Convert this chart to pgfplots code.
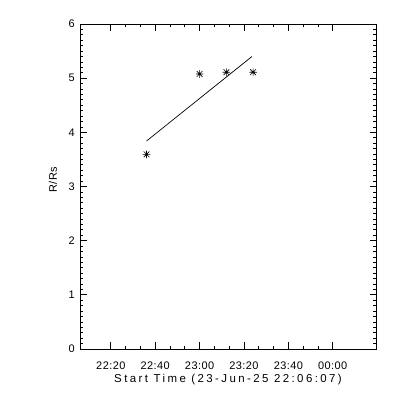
\documentclass[border=0pt]{standalone}
\usepackage{pgfplots}
\pgfplotsset{compat=1.18}
\usepackage{fontspec}
\setmainfont{Liberation Sans}
\pgfdeclareplotmark{idlstar}{%
  \pgfpathmoveto{\pgfqpoint{-\pgfplotmarksize}{0pt}}\pgfpathlineto{\pgfqpoint{\pgfplotmarksize}{0pt}}%
  \pgfpathmoveto{\pgfqpoint{0pt}{-\pgfplotmarksize}}\pgfpathlineto{\pgfqpoint{0pt}{\pgfplotmarksize}}%
  \pgfpathmoveto{\pgfqpoint{-0.75\pgfplotmarksize}{-0.75\pgfplotmarksize}}\pgfpathlineto{\pgfqpoint{0.75\pgfplotmarksize}{0.75\pgfplotmarksize}}%
  \pgfpathmoveto{\pgfqpoint{-0.75\pgfplotmarksize}{0.75\pgfplotmarksize}}\pgfpathlineto{\pgfqpoint{0.75\pgfplotmarksize}{-0.75\pgfplotmarksize}}%
  \pgfusepathqstroke}
\begin{document}
\begin{tikzpicture}
\useasboundingbox (0,0) rectangle (400bp,400bp);
\begin{axis}[
  at={(80bp,51bp)}, anchor=south west,
  scale only axis, width=296bp, height=325bp,
  xmin=6.117, xmax=139.5, ymin=0, ymax=6,
  xtick={20,40,60,80,100,120},
  xticklabels={22:20,22:40,23:00,23:20,23:40,00:00},
  ytick={0,1,2,3,4,5,6},
  minor x tick num=2, minor y tick num=9,
  tick align=inside, tick pos=both,
  major tick length=6.5bp, minor tick length=3.2bp,
  axis line style={line width=0.7bp},
  every tick/.style={black, line width=0.7bp},
  /pgf/number format/assume math mode=true,
  tick label style={font=\fontsize{11}{13}\selectfont\addfontfeatures{LetterSpace=4}},
  xticklabel style={anchor=center, yshift=-17bp},
  yticklabel style={anchor=east, inner sep=0pt, xshift=-5bp},
  xlabel={Start Time (23-Jun-25 22:06:07)},
  xlabel style={at={(axis description cs:0.5,-0.0954)}, anchor=center, font=\fontsize{11.5}{13}\selectfont\addfontfeatures{LetterSpace=21}},
  ylabel={R/Rs},
  ylabel style={at={(axis description cs:-0.0912,0.52)}, anchor=center, rotate=0, font=\fontsize{11}{13}\selectfont\addfontfeatures{LetterSpace=4}},
]
\addplot[only marks, mark=idlstar, mark size=3.8bp, mark options={line width=0.6bp}] coordinates {
  (36.1,3.594) (60.0,5.077) (72.1,5.11) (84.1,5.11)
};
\addplot[black, line width=0.7bp, no marks] coordinates {
  (36.1,3.84) (83.6,5.40)
};
\end{axis}
\end{tikzpicture}
\end{document}
